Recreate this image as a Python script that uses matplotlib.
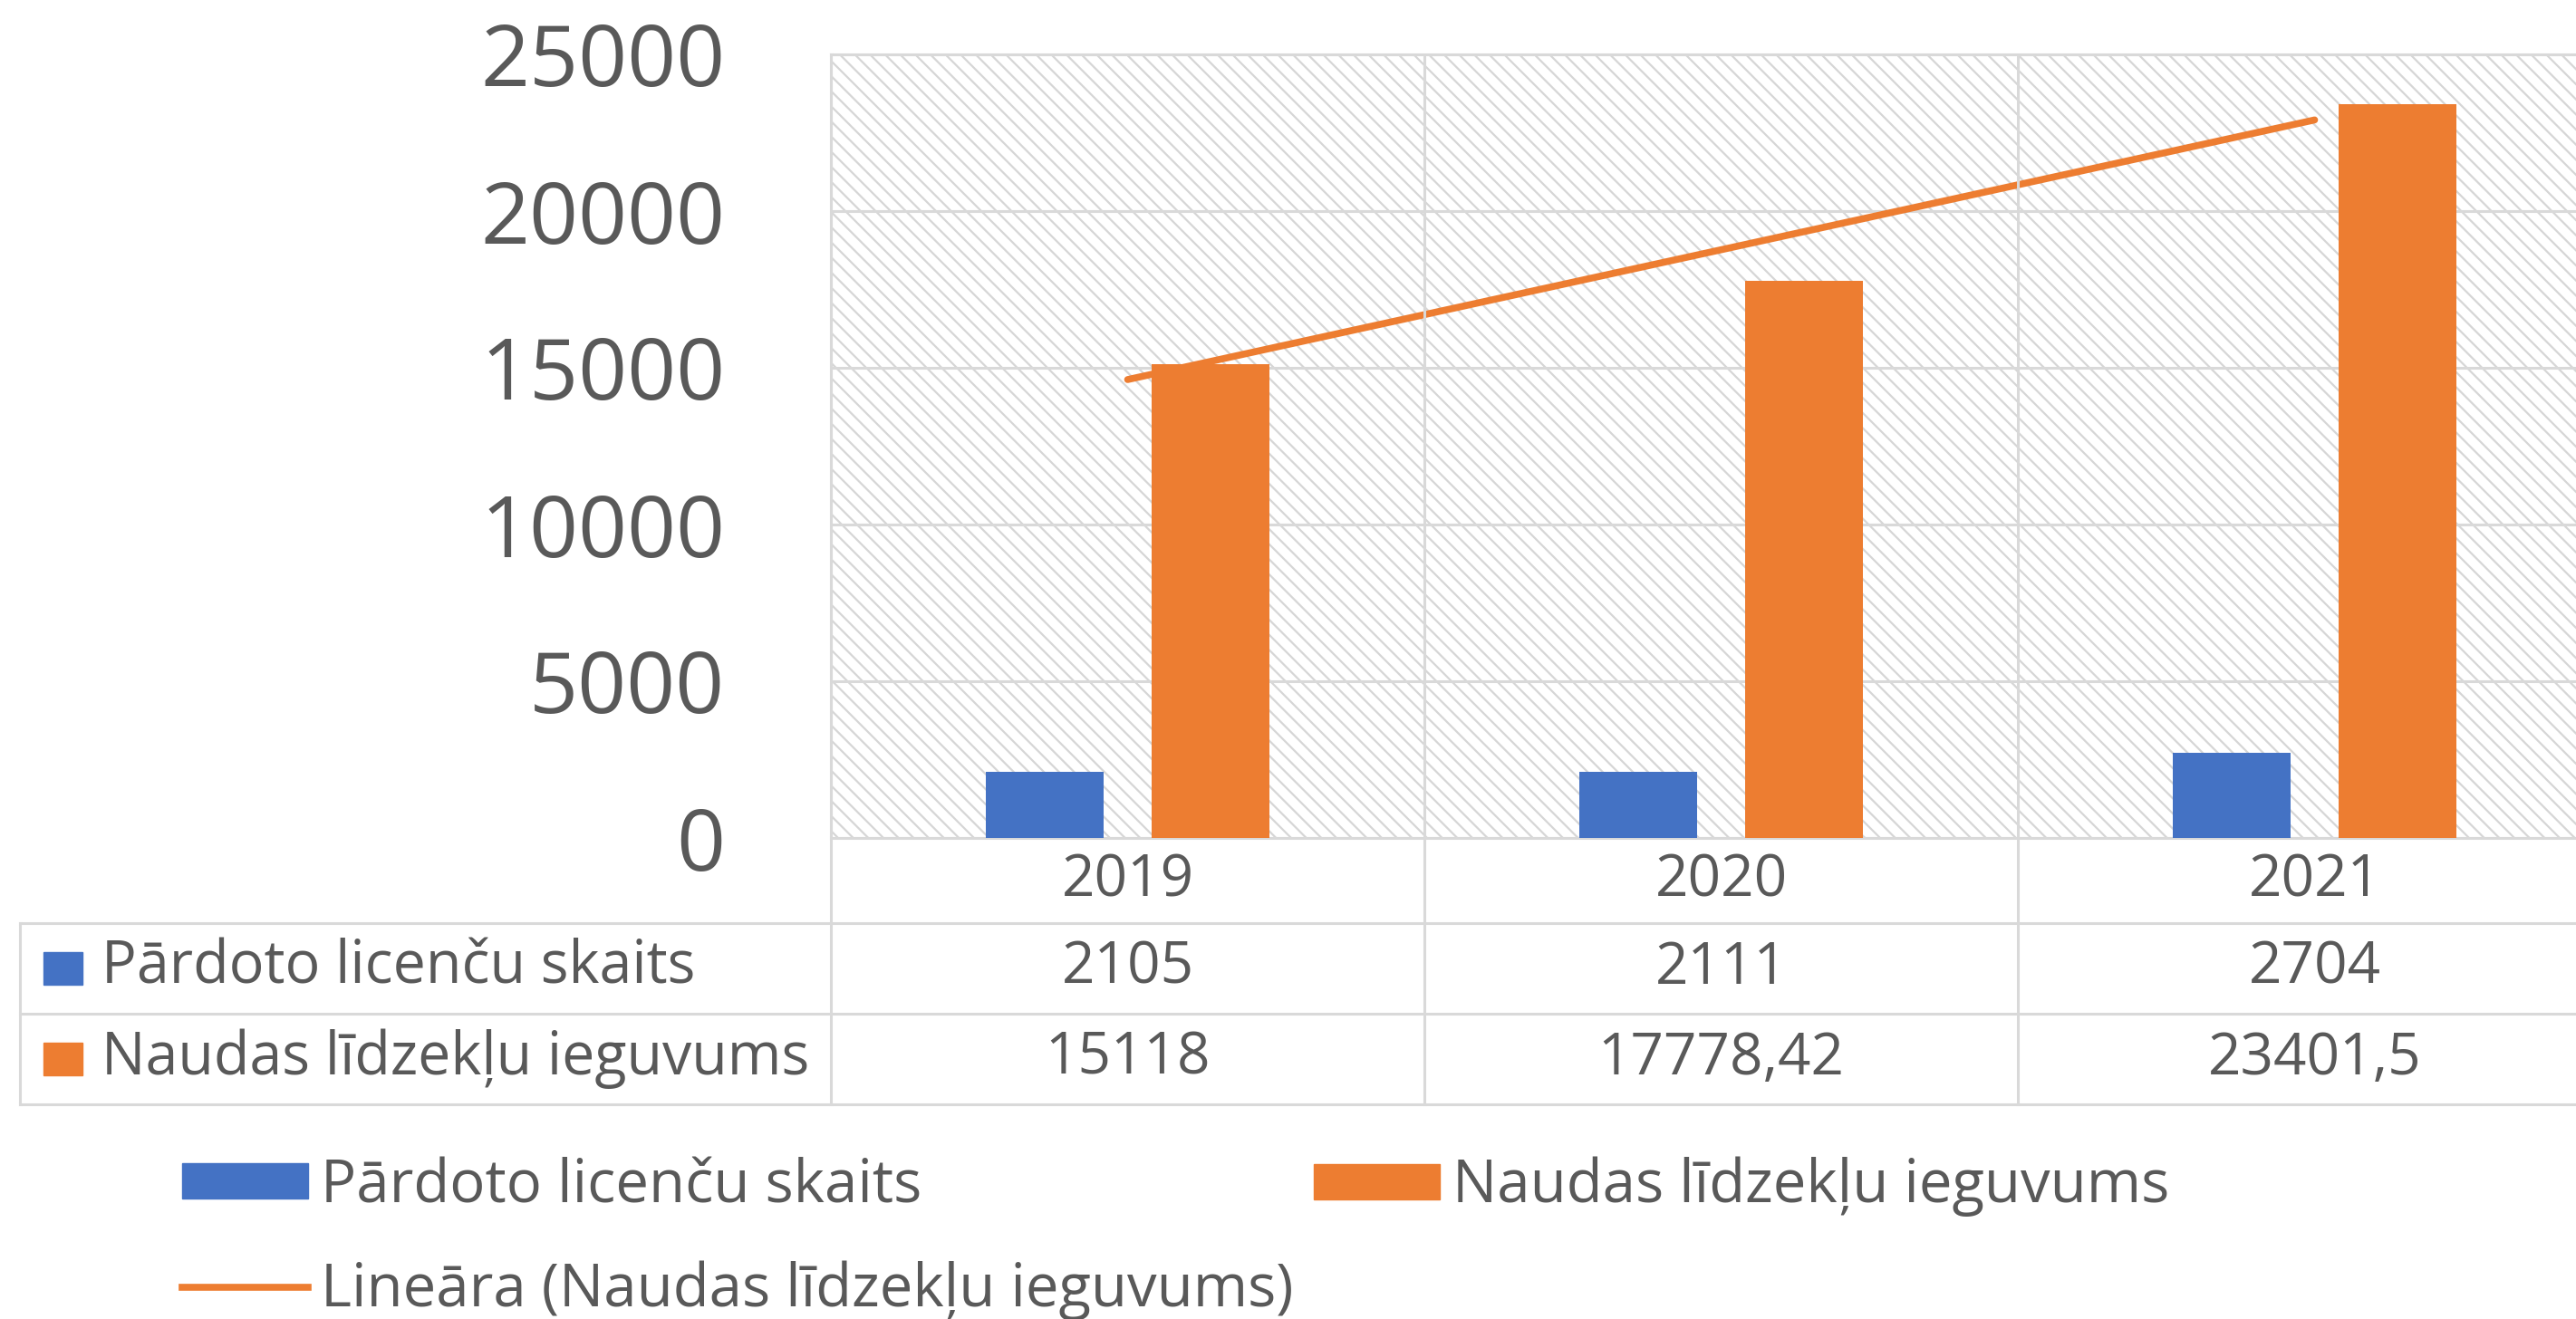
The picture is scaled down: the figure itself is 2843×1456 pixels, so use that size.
import numpy as np
import matplotlib
matplotlib.use('Agg')
import matplotlib.pyplot as plt
from matplotlib.lines import Line2D
from matplotlib.patches import Rectangle, Patch
import matplotlib.transforms as mtransforms

plt.rcParams['font.family'] = ['Open Sans', 'DejaVu Sans']
plt.rcParams['hatch.linewidth'] = 1.6

years = ['2019', '2020', '2021']
licences = [2105, 2111, 2704]
revenue = [15118, 17778.42, 23401.5]
series_names = ['Pārdoto licenču skaits', 'Naudas līdzekļu ieguvums']
trend_name = 'Lineāra (Naudas līdzekļu ieguvums)'
yticks = [0, 5000, 10000, 15000, 20000, 25000]

blue = '#4472C4'
orange = '#ED7D31'
grid_c = '#d9d9d9'
hatch_c = '#d6d6d6'
text_c = '#595959'

W, H = 2843, 1456
fig = plt.figure(figsize=(W / 100, H / 100), dpi=100)


def fx(x):
    return x / W


def fy(y):
    return 1 - y / H


# plot area (right part runs off the picture like in the original)
ax = fig.add_axes([fx(917), fy(925), 3 * 655 / W, 865 / H])
ax.add_patch(Rectangle((0, 0), 1, 1, transform=ax.transAxes, facecolor='white',
                       edgecolor=hatch_c, linewidth=0, hatch='\\\\', zorder=0.1))
ax.set_xlim(-0.5, 2.5)
ax.set_ylim(0, 25000)
ax.set_yticks(yticks)
ax.set_xticks([])
ax.tick_params(axis='y', length=0, pad=84, labelsize=68, labelcolor=text_c)
ax.yaxis.grid(True, color=grid_c, linewidth=2.2)
ax.set_axisbelow(True)
for s in ax.spines.values():
    s.set_color(grid_c)
    s.set_linewidth(2.2)

x = np.arange(len(years))
off, bw = 0.14, 0.198
ax.bar(x - off, licences, width=bw, color=blue, zorder=3)
ax.bar(x + off, revenue, width=bw, color=orange, zorder=3)

# linear trend of revenue
k, b = np.polyfit(x, revenue, 1)
ax.plot(x, k * x + b, color=orange, linewidth=5.5, solid_capstyle='round', zorder=4)

# data table under the chart
tab_bottom = 1219
row_lines = [1019, 1119, tab_bottom]
blend = mtransforms.blended_transform_factory(ax.transData, fig.transFigure)
for bnd in [-0.5, 0.5, 1.5]:
    fig.add_artist(Line2D([bnd, bnd], [fy(60), fy(tab_bottom)],
                          color=grid_c, linewidth=2.2, transform=blend))
for ry in row_lines:
    fig.add_artist(Line2D([fx(22), 1], [fy(ry), fy(ry)], color=grid_c, linewidth=2.2))
fig.add_artist(Line2D([fx(22), fx(22)], [fy(1019), fy(tab_bottom)], color=grid_c, linewidth=2.2))


def fmt(v):
    s = ('%f' % v).rstrip('0').rstrip('.')
    return s.replace('.', ',')


for i, yr in enumerate(years):
    fig.text(i, fy(973), yr, transform=blend, ha='center', va='center',
             fontsize=46, color=text_c)
    fig.text(i, fy(1069), fmt(licences[i]), transform=blend, ha='center',
             va='center', fontsize=46, color=text_c)
    fig.text(i, fy(1169), fmt(revenue[i]), transform=blend, ha='center',
             va='center', fontsize=46, color=text_c)

for ry, col, name in [(1069, blue, series_names[0]), (1169, orange, series_names[1])]:
    fig.add_artist(Rectangle((fx(48), fy(ry + 18)), 43 / W, 36 / H, color=col))
    fig.text(fx(112), fy(ry), name, ha='left', va='center', fontsize=46.5, color=text_c)

# legend below
leg_kw = dict(fontsize=47, frameon=False, loc='center left', borderpad=0,
              borderaxespad=0, handlelength=2.13, handleheight=0.54,
              handletextpad=0.21, labelcolor=text_c)
l1 = fig.legend([Patch(color=blue)], [series_names[0]],
                bbox_to_anchor=(fx(201), fy(1310)), **leg_kw)
l2 = fig.legend([Patch(color=orange)], [series_names[1]],
                bbox_to_anchor=(fx(1450), fy(1310)), **leg_kw)
l3 = fig.legend([Line2D([0], [0], color=orange, linewidth=5.5)], [trend_name],
                bbox_to_anchor=(fx(201), fy(1425)), **leg_kw)

fig.savefig('out.png', dpi=100)
